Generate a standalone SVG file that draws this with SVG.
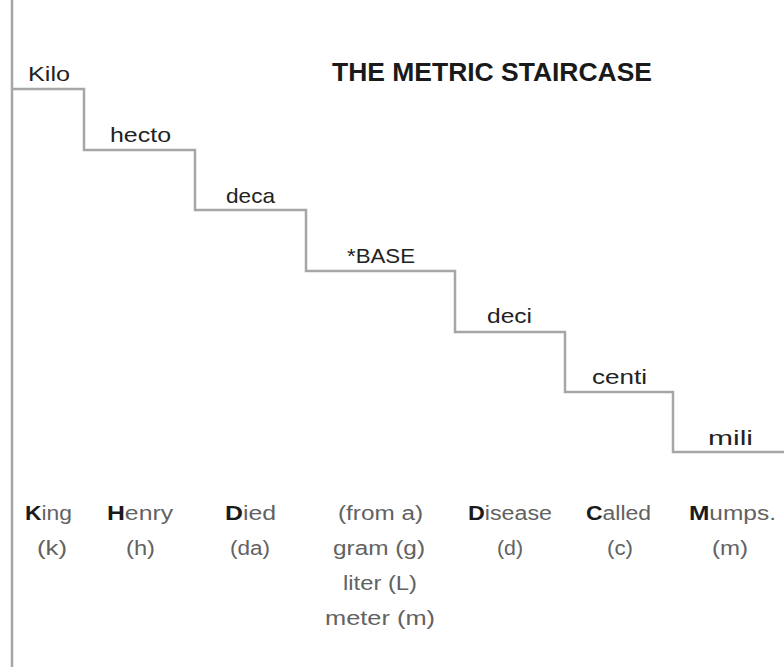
<svg xmlns="http://www.w3.org/2000/svg" width="784" height="667" viewBox="0 0 784 667">
<style>
.bg{fill:#ffffff}
.frame{stroke:#a6a6a6;stroke-width:2.5;fill:none}
.stair{stroke:#a6a6a6;stroke-width:2.5;fill:none;stroke-linejoin:miter}
.lab{font-family:"Liberation Sans",Arial,sans-serif;font-size:21px;fill:#222222;text-anchor:middle}
.title{font-family:"Liberation Sans",Arial,sans-serif;font-size:26px;font-weight:bold;fill:#1a1a1a;text-anchor:middle}
.bot{font-family:"Liberation Sans",Arial,sans-serif;font-size:20px;fill:#626262;text-anchor:middle}
.b{font-weight:bold;fill:#1a1a1a}
</style>
<rect class="bg" x="0" y="0" width="784" height="667"/>
<line class="frame" x1="12" y1="0" x2="12" y2="667"/>
<g id="connectors">
<path class="stair" d="M12,89 H84 V150 H195 V210 H306 V271 H455 V332 H565 V392 H673 V452 H784"/>
</g>
<g id="title"><text class="title" x="492" y="81" textLength="320" lengthAdjust="spacingAndGlyphs">THE METRIC STAIRCASE</text></g>
<g id="kilo"><text class="lab" x="49" y="81" textLength="42" lengthAdjust="spacingAndGlyphs">Kilo</text></g>
<g id="hecto"><text class="lab" x="140.5" y="142" textLength="61" lengthAdjust="spacingAndGlyphs">hecto</text></g>
<g id="deca"><text class="lab" x="250.5" y="203" textLength="49" lengthAdjust="spacingAndGlyphs">deca</text></g>
<g id="base"><text class="lab" x="381" y="263" textLength="68" lengthAdjust="spacingAndGlyphs">*BASE</text></g>
<g id="deci"><text class="lab" x="509.5" y="323" textLength="45" lengthAdjust="spacingAndGlyphs">deci</text></g>
<g id="centi"><text class="lab" x="619.5" y="384" textLength="55" lengthAdjust="spacingAndGlyphs">centi</text></g>
<g id="mili"><text class="lab" x="730.5" y="445" textLength="45" lengthAdjust="spacingAndGlyphs">mili</text></g>
<g id="king">
<text class="bot" x="48.5" y="520" textLength="47" lengthAdjust="spacingAndGlyphs"><tspan class="b">K</tspan>ing</text>
<text class="bot" x="52" y="555" textLength="30" lengthAdjust="spacingAndGlyphs">(k)</text>
</g>
<g id="henry">
<text class="bot" x="140" y="520" textLength="66" lengthAdjust="spacingAndGlyphs"><tspan class="b">H</tspan>enry</text>
<text class="bot" x="140.5" y="555" textLength="29" lengthAdjust="spacingAndGlyphs">(h)</text>
</g>
<g id="died">
<text class="bot" x="250.5" y="520" textLength="51" lengthAdjust="spacingAndGlyphs"><tspan class="b">D</tspan>ied</text>
<text class="bot" x="250" y="555" textLength="40" lengthAdjust="spacingAndGlyphs">(da)</text>
</g>
<g id="froma">
<text class="bot" x="380.5" y="520" textLength="85" lengthAdjust="spacingAndGlyphs">(from a)</text>
<text class="bot" x="379" y="555" textLength="92" lengthAdjust="spacingAndGlyphs">gram (g)</text>
<text class="bot" x="380" y="590" textLength="74" lengthAdjust="spacingAndGlyphs">liter (L)</text>
<text class="bot" x="380" y="625" textLength="110" lengthAdjust="spacingAndGlyphs">meter (m)</text>
</g>
<g id="disease">
<text class="bot" x="510" y="520" textLength="84" lengthAdjust="spacingAndGlyphs"><tspan class="b">D</tspan>isease</text>
<text class="bot" x="510" y="555" textLength="26" lengthAdjust="spacingAndGlyphs">(d)</text>
</g>
<g id="called">
<text class="bot" x="618.5" y="520" textLength="65" lengthAdjust="spacingAndGlyphs"><tspan class="b">C</tspan>alled</text>
<text class="bot" x="620" y="555" textLength="26" lengthAdjust="spacingAndGlyphs">(c)</text>
</g>
<g id="mumps">
<text class="bot" x="732.5" y="520" textLength="87" lengthAdjust="spacingAndGlyphs"><tspan class="b">M</tspan>umps.</text>
<text class="bot" x="730" y="555" textLength="36" lengthAdjust="spacingAndGlyphs">(m)</text>
</g>
</svg>
